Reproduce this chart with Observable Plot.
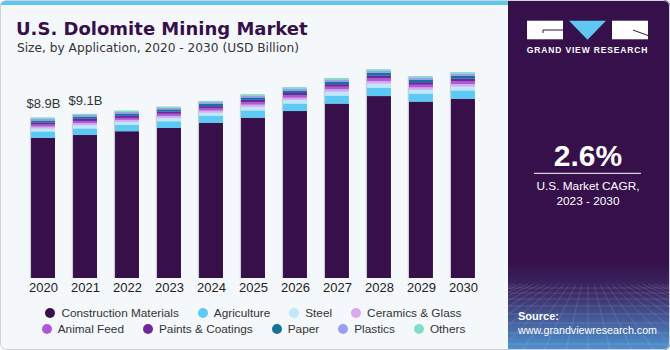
<!DOCTYPE html>
<html>
<head>
<meta charset="utf-8">
<script src="https://cdn.jsdelivr.net/npm/d3@7"></script>
<script src="https://cdn.jsdelivr.net/npm/@observablehq/plot@0.6"></script>
<style>
  html, body { margin: 0; padding: 0; background: #ffffff; }
  #card { position: relative; width: 670px; height: 350px; overflow: hidden; border-radius: 6px; background: #f4f8fb; font-family: "Liberation Sans", Arial, sans-serif; }
  #border { position: absolute; left: 0; top: 0; width: 670px; height: 350px; box-sizing: border-box; border: 1px solid #cfd3d8; border-radius: 6px; pointer-events: none; }
  #strip { position: absolute; left: 0; top: 1px; width: 508px; height: 4px; background: #5ec8f2; }
  #title { position: absolute; left: 16px; top: 19.8px; font-family: "DejaVu Sans", sans-serif; font-weight: bold; font-size: 18px; line-height: 18px; color: #37104a; white-space: nowrap; }
  #subtitle { position: absolute; left: 17px; top: 40.5px; font-family: "DejaVu Sans", sans-serif; font-size: 12.2px; line-height: 14px; color: #333; white-space: nowrap; }
  #chart { position: absolute; left: 0; top: 0; }
  #legend { position: absolute; left: 0; top: 305px; width: 507px; font-size: 11.8px; color: #333; }
  .lrow { display: flex; justify-content: center; gap: 19px; height: 16px; line-height: 16px; }
  .litem { display: flex; align-items: center; white-space: nowrap; }
  .ldot { width: 10px; height: 10px; border-radius: 50%; margin-right: 6px; }
  #panel { position: absolute; left: 508px; top: 0; }
</style>
</head>
<body>
<div id="card">
  <div id="strip"></div>
  <div id="chart"></div>
  <div id="title">U.S. Dolomite Mining Market</div>
  <div id="subtitle">Size, by Application, 2020 - 2030 (USD Billion)</div>
  <div id="legend"></div>
  <svg id="panel" width="162" height="350" viewBox="508 0 162 350">
    <defs>
      <linearGradient id="bottomGrad" x1="0" y1="0" x2="0" y2="1">
        <stop offset="0" stop-color="#36104a" stop-opacity="1"/>
        <stop offset="0.35" stop-color="#3c2a66" stop-opacity="1"/>
        <stop offset="1" stop-color="#4f93d2" stop-opacity="1"/>
      </linearGradient>
      <clipPath id="gridClip"><rect x="508" y="284" width="162" height="66"/></clipPath>
    </defs>
    <rect x="508" y="0" width="162" height="350" fill="#36104a"/>
    <rect x="508" y="262" width="162" height="88" fill="url(#bottomGrad)"/>
    <g id="grid" clip-path="url(#gridClip)" stroke="#ffffff" stroke-opacity="0.18" stroke-width="0.7" fill="none"></g>
    <!-- logo -->
    <rect x="527" y="20.7" width="36" height="18.6" fill="#ffffff"/>
    <path d="M543 30 H563 M543 30 V33" stroke="#36104a" stroke-width="1" fill="none"/>
    <path d="M569 20.7 H606 L587.5 39.8 Z" fill="#5ec8f2"/>
    <rect x="612" y="20.7" width="36" height="18.6" fill="#ffffff"/>
    <path d="M633 30 L648 35.5" stroke="#36104a" stroke-width="1" fill="none"/>
    <text x="587.5" y="52.5" text-anchor="middle" fill="#ffffff" font-family="Liberation Sans, Arial, sans-serif" font-weight="bold" font-size="8.5" letter-spacing="0.85">GRAND VIEW RESEARCH</text>
    <text x="588" y="166" text-anchor="middle" fill="#ffffff" font-family="Liberation Sans, Arial, sans-serif" font-weight="bold" font-size="30">2.6%</text>
    <line x1="534" x2="641" y1="173.3" y2="173.3" stroke="#ffffff" stroke-width="1"/>
    <text x="588" y="189.5" text-anchor="middle" fill="#ffffff" font-family="Liberation Sans, Arial, sans-serif" font-size="11.8">U.S. Market CAGR,</text>
    <text x="588" y="205" text-anchor="middle" fill="#ffffff" font-family="Liberation Sans, Arial, sans-serif" font-size="11.8">2023 - 2030</text>
    <text x="518" y="320" fill="#ffffff" font-family="Liberation Sans, Arial, sans-serif" font-weight="bold" font-size="11">Source:</text>
    <text x="518" y="334" fill="#ffffff" font-family="Liberation Sans, Arial, sans-serif" font-size="10.7">www.grandviewresearch.com</text>
  </svg>
  <div id="border"></div>
</div>
<script>
// ---- data (USD Billion) ----
const years = ["2020","2021","2022","2023","2024","2025","2026","2027","2028","2029","2030"];
const seriesNames = ["Construction Materials","Agriculture","Steel","Ceramics & Glass","Animal Feed","Paints & Coatings","Paper","Plastics","Others"];
const seriesColors = ["#37104a","#5ccaf5","#bfe8fa","#d9a9ef","#b058dc","#71259e","#15739b","#9a9cf7","#80dfc8"];
const construction = [7.77, 7.93, 8.14, 8.32, 8.61, 8.89, 9.26, 9.67, 10.09, 9.78, 9.94];
const agriculture  = [0.35, 0.36, 0.35, 0.37, 0.38, 0.40, 0.41, 0.44, 0.46, 0.44, 0.46];
const steel        = [0.18, 0.19, 0.18, 0.19, 0.19, 0.21, 0.21, 0.23, 0.24, 0.23, 0.23];
const ceramics     = [0.10, 0.11, 0.10, 0.11, 0.11, 0.12, 0.12, 0.13, 0.13, 0.13, 0.13];
const animalFeed   = [0.11, 0.12, 0.11, 0.12, 0.12, 0.13, 0.13, 0.14, 0.15, 0.14, 0.15];
const paints       = [0.11, 0.12, 0.12, 0.12, 0.12, 0.13, 0.13, 0.14, 0.15, 0.14, 0.15];
const paper        = [0.11, 0.12, 0.12, 0.12, 0.12, 0.13, 0.13, 0.14, 0.15, 0.14, 0.15];
const plastics     = [0.09, 0.09, 0.09, 0.09, 0.10, 0.10, 0.11, 0.11, 0.11, 0.11, 0.11];
const others       = [0.08, 0.06, 0.07, 0.06, 0.07, 0.08, 0.08, 0.09, 0.09, 0.08, 0.09];
const labelYears = ["2020", "2021"];
const labelTexts = ["$8.9B", "$9.1B"];

const seriesValues = [construction, agriculture, steel, ceramics, animalFeed, paints, paper, plastics, others];
const rows = [];
seriesNames.forEach((name, si) => {
  years.forEach((yr, yi) => rows.push({year: yr, series: name, value: seriesValues[si][yi]}));
});
const totals = years.map((yr, yi) => ({year: yr, total: d3.sum(seriesValues, s => s[yi])}));
const labels = labelYears.map((yr, i) => ({year: yr, total: totals.find(t => t.year === yr).total, text: labelTexts[i]}));

const pxPerB = 18.03;
const chart = Plot.plot({
  width: 507,
  height: 300,
  marginLeft: 13,
  marginRight: 14,
  marginBottom: 22,
  style: {background: "transparent", fontFamily: "Liberation Sans, Arial, sans-serif", fontSize: "13px", color: "#222"},
  x: {domain: years, paddingInner: 0.43, paddingOuter: 0.43, round: false, label: null},
  y: {domain: [0, 14], range: [278, 278 - 14 * pxPerB], axis: null},
  color: {domain: seriesNames, range: seriesColors},
  marks: [
    Plot.axisX({tickSize: 0, tickPadding: 4.4, label: null, fill: "#222"}),
    Plot.barY(totals, {x: "year", y: "total", fill: "#c9ccd4", dx: -1.2}),
    Plot.barY(rows, {x: "year", y: "value", fill: "series", order: seriesNames}),
    Plot.text(labels, {x: "year", y: "total", text: "text", dy: -14, fontSize: 13, fill: "#333"})
  ]
});
document.getElementById("chart").appendChild(chart);

// legend
const legend = document.getElementById("legend");
const rowSplits = [seriesNames.slice(0, 4), seriesNames.slice(4)];
rowSplits.forEach(names => {
  const r = document.createElement("div");
  r.className = "lrow";
  names.forEach(n => {
    const it = document.createElement("div");
    it.className = "litem";
    const dot = document.createElement("span");
    dot.className = "ldot";
    dot.style.background = seriesColors[seriesNames.indexOf(n)];
    const t = document.createElement("span");
    t.textContent = n;
    it.appendChild(dot); it.appendChild(t);
    r.appendChild(it);
  });
  legend.appendChild(r);
});

// decorative perspective grid in panel
const grid = d3.select("#grid");
[288, 293, 299, 306, 314, 323, 333, 344].forEach(y => {
  grid.append("line").attr("x1", 508).attr("x2", 670).attr("y1", y).attr("y2", y);
});
for (let i = -14; i <= 14; i++) {
  grid.append("line").attr("x1", 588 + i * 6).attr("y1", 284).attr("x2", 588 + i * 22).attr("y2", 350);
}
</script>
</body>
</html>
